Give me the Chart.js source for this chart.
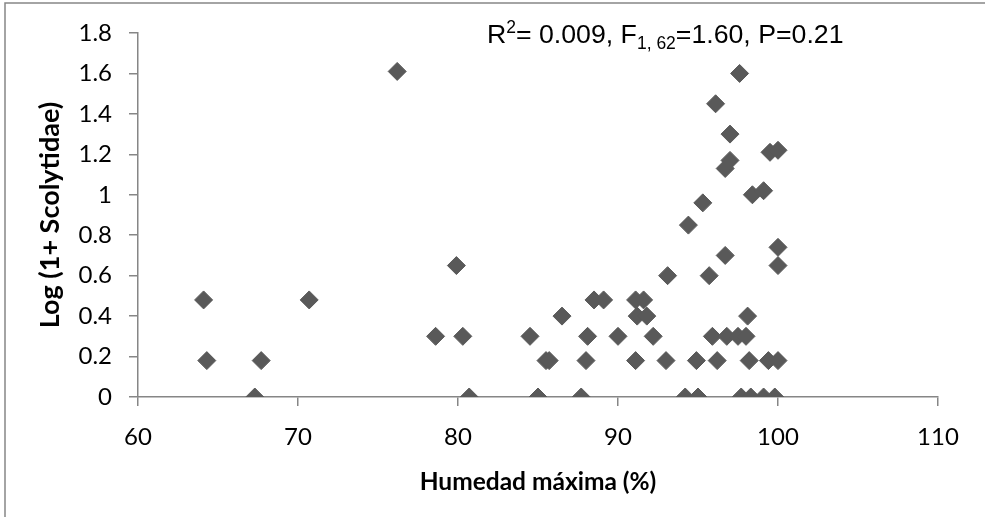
<!DOCTYPE html>
<html>
<head>
<meta charset="utf-8">
<script src="https://cdn.jsdelivr.net/npm/chart.js@4.4.0/dist/chart.umd.min.js"></script>
<style>
  body { margin: 0; background: #fff; }
  #wrap { width: 985px; height: 517px; }
</style>
</head>
<body>
<div id="wrap"><canvas id="c" width="985" height="517"></canvas></div>
<script>
// Humedad máxima (%) vs Log(1+ Scolytidae)
const humedad = [
  64.1, 64.3, 67.3, 67.7, 70.7, 76.2, 78.6, 79.9, 80.3, 80.7,
  84.5, 85.0, 85.5, 85.7, 86.5, 87.7, 88.0, 88.1, 88.5, 89.1,
  90.0, 91.1, 91.6, 91.2, 91.8, 91.1, 92.2, 93.0, 93.1, 94.2,
  94.4, 94.9, 95.0, 95.3, 95.7, 95.9, 96.1, 96.2, 96.7, 96.8,
  96.7, 97.0, 97.0, 97.5, 97.6, 97.7, 98.0, 98.1, 98.2, 98.3,
  98.4, 99.1, 99.1, 99.4, 99.5, 99.8, 100.0, 100.0, 100.0, 100.0
];
const logScoly = [
  0.48, 0.18, 0.00, 0.18, 0.48, 1.61, 0.30, 0.65, 0.30, 0.00,
  0.30, 0.00, 0.18, 0.18, 0.40, 0.00, 0.18, 0.30, 0.48, 0.48,
  0.30, 0.48, 0.48, 0.40, 0.40, 0.18, 0.30, 0.18, 0.60, 0.00,
  0.85, 0.18, 0.00, 0.96, 0.60, 0.30, 1.45, 0.18, 0.70, 0.30,
  1.13, 1.17, 1.30, 0.30, 1.60, 0.00, 0.30, 0.40, 0.18, 0.00,
  1.00, 1.02, 0.00, 0.18, 1.21, 0.00, 0.18, 1.22, 0.74, 0.65
];
const xTicks = [60, 70, 80, 90, 100, 110];
const yTicks = [0, 0.2, 0.4, 0.6, 0.8, 1, 1.2, 1.4, 1.6, 1.8];

const axisGray = '#868686';
const tickFont = { family: 'Lato', size: 24 };

// frame lines + statistics text
const extras = {
  id: 'extras',
  beforeDraw(chart) {
    const ctx = chart.ctx;
    ctx.save();
    ctx.strokeStyle = axisGray;
    ctx.lineWidth = 1.5;
    ctx.beginPath();
    ctx.moveTo(985, 3);
    ctx.lineTo(5, 3);
    ctx.lineTo(5, 517);
    ctx.stroke();
    ctx.restore();
  },
  afterDraw(chart) {
    const ctx = chart.ctx;
    ctx.save();
    ctx.fillStyle = '#000';
    ctx.textBaseline = 'alphabetic';
    ctx.textAlign = 'left';
    const big = '26.7px "Liberation Sans", Arial';
    const small = '17.5px "Liberation Sans", Arial';
    const parts = [
      ['R', big, 0],
      ['2', small, -10],
      ['= 0.009, F', big, 0],
      ['1, 62', small, 6],
      ['=1.60, P=0.21', big, 0]
    ];
    let x = 487, y = 43;
    parts.forEach(([t, f, dy]) => {
      ctx.font = f;
      ctx.fillText(t, x, y + dy);
      x += ctx.measureText(t).width;
    });
    ctx.restore();
  }
};

new Chart(document.getElementById('c'), {
  type: 'scatter',
  data: {
    datasets: [{
      data: humedad.map((h, i) => ({ x: h, y: logScoly[i] })),
      pointStyle: 'rectRot',
      pointRadius: 9,
      pointHoverRadius: 9,
      backgroundColor: '#595959',
      borderColor: '#595959',
      borderWidth: 1
    }]
  },
  options: {
    responsive: false,
    animation: false,
    layout: { padding: { left: 5, top: 33, right: 47, bottom: 0 } },
    plugins: { legend: { display: false }, tooltip: { enabled: false } },
    scales: {
      x: {
        type: 'linear',
        min: 60, max: 110,
        afterBuildTicks: s => { s.ticks = xTicks.map(v => ({ value: v })); },
        afterFit: s => { s.height = 120; },
        grid: { drawOnChartArea: false, drawTicks: true, tickLength: 9, color: axisGray, lineWidth: 1.5 },
        border: { color: axisGray, width: 1.5 },
        ticks: { color: '#000', font: tickFont, padding: 17, callback: v => String(v) },
        title: { display: true, text: 'Humedad máxima (%)', color: '#000',
                 font: { family: 'Lato', size: 24.5, weight: 'bold' }, padding: { bottom: 20 } }
      },
      y: {
        type: 'linear',
        min: 0, max: 1.8,
        afterBuildTicks: s => { s.ticks = yTicks.map(v => ({ value: v })); },
        afterFit: s => { s.width = 133; },
        grid: { drawOnChartArea: false, drawTicks: true, tickLength: 9, color: axisGray, lineWidth: 1.5 },
        border: { color: axisGray, width: 1.5 },
        ticks: { color: '#000', font: tickFont, padding: 17, callback: v => String(v) },
        title: { display: true, text: 'Log (1+ Scolytidae)', color: '#000',
                 font: { family: 'Lato', size: 27, weight: 'bold' }, padding: { top: 29 } }
      }
    }
  },
  plugins: [extras]
});
</script>
</body>
</html>
